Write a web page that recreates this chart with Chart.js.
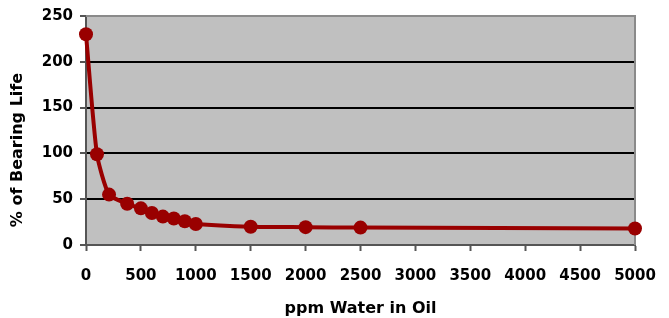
<!DOCTYPE html>
<html>
<head>
	<title>Bearing life vs water in oil</title>
	<script src="https://cdn.jsdelivr.net/npm/chart.js@4/dist/chart.umd.min.js"></script>
	<style>
		body { margin: 0; background: #fff; }
		#wrap { width: 669px; height: 318px; }
	</style>
</head>
<body>
	<div id="wrap">
		<canvas id="grafico" width="669" height="318"></canvas>
	</div>

	<script>
		// datos
		var ppmAgua = [0, 100, 210, 375, 500, 600, 700, 800, 900, 1000, 1500, 2000, 2500, 5000];
		var vidaRodamiento = [230, 99, 55, 45, 40, 35, 31, 29, 26, 23, 20, 19.5, 19, 18];
		var ticksX = [0, 500, 1000, 1500, 2000, 2500, 3000, 3500, 4000, 4500, 5000];
		var ticksY = [0, 50, 100, 150, 200, 250];

		var puntos = ppmAgua.map(function (x, i) {
			return { x: x, y: vidaRodamiento[i] };
		});

		var fuente = "'DejaVu Sans', Verdana, sans-serif";

		// fondo gris del area de trazado + borde
		var fondo = {
			id: 'fondo',
			beforeDraw: function (chart) {
				var a = chart.chartArea, ctx = chart.ctx;
				ctx.save();
				ctx.fillStyle = '#c0c0c0';
				ctx.fillRect(a.left, a.top, a.right - a.left, a.bottom - a.top);
				ctx.restore();
			},
			beforeDatasetsDraw: function (chart) {
				var a = chart.chartArea, ctx = chart.ctx;
				ctx.save();
				ctx.strokeStyle = '#8a8a8a';
				ctx.lineWidth = 2;
				ctx.beginPath();
				ctx.moveTo(a.left, a.top);
				ctx.lineTo(a.right, a.top);
				ctx.lineTo(a.right, a.bottom);
				ctx.stroke();
				ctx.restore();
			},
			afterDraw: function (chart) {
				// titulo del eje Y
				var ctx = chart.ctx;
				ctx.save();
				ctx.translate(18, 150);
				ctx.rotate(-Math.PI / 2);
				ctx.font = 'bold 16px ' + fuente;
				ctx.fillStyle = '#000';
				ctx.textAlign = 'center';
				ctx.textBaseline = 'middle';
				ctx.fillText('% of Bearing Life', 0, 0);
				ctx.restore();
			}
		};

		var canvas = document.getElementById('grafico').getContext('2d');
		window.linea = new Chart(canvas, {
			type: 'line',
			data: {
				datasets: [{
					data: puntos,
					borderColor: '#990000',
					backgroundColor: '#990000',
					borderWidth: 4,
					pointRadius: 7,
					pointBackgroundColor: '#990000',
					pointBorderColor: '#990000',
					pointBorderWidth: 0,
					tension: 0.2,
					clip: false
				}]
			},
			options: {
				responsive: false,
				animation: false,
				layout: { padding: { top: 14, right: 34, left: 0, bottom: 0 } },
				plugins: {
					legend: { display: false },
					tooltip: { enabled: false }
				},
				scales: {
					x: {
						type: 'linear',
						min: 0,
						max: 5000,
						afterBuildTicks: function (s) {
							s.ticks = ticksX.map(function (v) { return { value: v }; });
						},
						afterFit: function (s) {
							s.height = 73;
							s.paddingLeft = 0;
							s.paddingRight = 0;
						},
						ticks: {
							color: '#000',
							font: { family: fuente, size: 15, weight: 'bold' },
							padding: 16,
							maxRotation: 0,
							autoSkip: false,
							callback: function (v) { return String(v); }
						},
						grid: {
							drawOnChartArea: false,
							drawTicks: true,
							tickLength: 6,
							tickWidth: 2,
							tickColor: '#555'
						},
						border: { color: '#555', width: 2 },
						title: {
							display: true,
							text: 'ppm Water in Oil',
							color: '#000',
							font: { family: fuente, size: 16, weight: 'bold' },
							padding: { top: 0, bottom: 0 }
						}
					},
					y: {
						min: 0,
						max: 250,
						afterBuildTicks: function (s) {
							s.ticks = ticksY.map(function (v) { return { value: v }; });
						},
						afterFit: function (s) { s.width = 86; },
						ticks: {
							color: '#000',
							font: { family: fuente, size: 15, weight: 'bold' },
							padding: 7,
							callback: function (v) { return String(v); }
						},
						grid: {
							color: function (c) {
								if (c.tick && (c.tick.value === 0 || c.tick.value === 250)) return 'rgba(0,0,0,0)';
								return '#000';
							},
							lineWidth: 2,
							tickLength: 6,
							tickWidth: 2,
							tickColor: '#555'
						},
						border: { color: '#555', width: 2 }
					}
				}
			},
			plugins: [fondo]
		});
	</script>
</body>
</html>
